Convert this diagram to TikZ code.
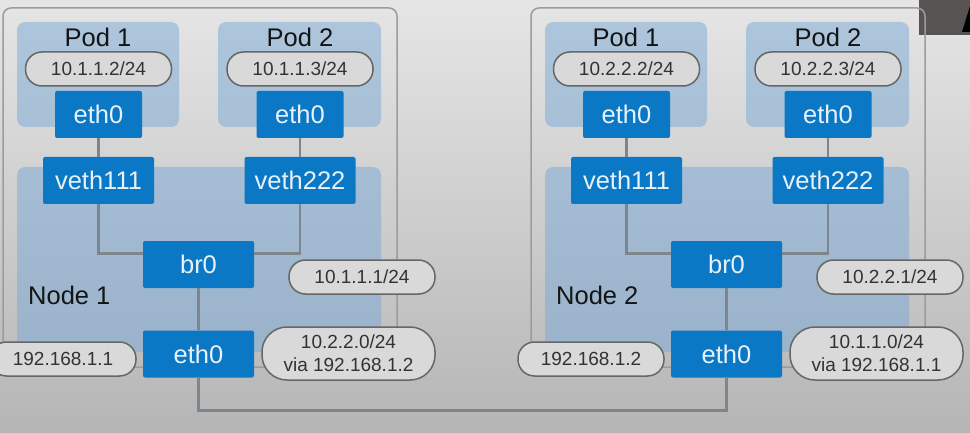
\documentclass[tikz,border=0pt]{standalone}
\usepackage{fontspec}
\setmainfont{Liberation Sans}

\definecolor{azul}{HTML}{0B78C6}
\definecolor{azulclaro}{HTML}{78AAD7}
\definecolor{cinzalinha}{HTML}{7D858D}
\definecolor{cinzaborda}{HTML}{666666}
\definecolor{cinzapilula}{HTML}{D9D9D9}
\definecolor{cinzacaixa}{HTML}{9C9C9C}
\definecolor{cinzaescuro}{HTML}{575353}

\tikzset{
  iface/.style={fill=azul, rounded corners=2pt, text=white!90!azul, inner sep=0pt,
    minimum width=111pt, minimum height=47pt, font=\fontsize{25.5}{30}\selectfont},
  pilula/.style={draw=cinzaborda, line width=1.5pt, fill=cinzapilula, rounded corners=16.5pt,
    minimum width=146pt, minimum height=34pt, inner sep=0pt, text=black!80,
    font=\fontsize{19}{23}\selectfont, align=center},
  rota/.style={minimum width=173pt, minimum height=53pt, rounded corners=25pt},
  rotulo/.style={inner sep=0pt, text=black!92, font=\fontsize{25.5}{30}\selectfont},
  caixa/.style={fill=azulclaro, fill opacity=0.5, rounded corners=8pt},
  ligacao/.style={draw=cinzalinha, line width=2.5pt},
}

\begin{document}
\begin{tikzpicture}[x=1pt,y=-1pt]
		% Fundo
		\clip (0,0) rectangle (970,433);
		\shade[top color=black!10, middle color=black!11, bottom color=black!29] (0,0) rectangle (970,433);
		\fill[cinzaescuro] (919,0) rectangle (970,35);
		\fill[black] (970,6) -- (962,32) -- (970,32) -- cycle;
		
		% Caixas do Node 1
		\draw[cinzacaixa, line width=1.5pt, rounded corners=8pt] (3,8) rectangle (397,367);
		\fill[caixa] (17,22) rectangle (179,127); % Pod 1
		\fill[caixa] (218,22) rectangle (381,127); % Pod 2
		\fill[caixa] (17,167) rectangle (381,352); % Node 1
		
		% Caixas do Node 2
		\draw[cinzacaixa, line width=1.5pt, rounded corners=8pt] (531,8) rectangle (925,367);
		\fill[caixa] (545,22) rectangle (707,127); % Pod 1
		\fill[caixa] (746,22) rectangle (909,127); % Pod 2
		\fill[caixa] (545,167) rectangle (909,352); % Node 2
		
		% Interfaces do Node 1
		\node[rotulo] (n1pod1) at (98,37) {Pod 1};
		\node[rotulo] (n1pod2) at (300,37) {Pod 2};
		\node[pilula] (n1ip1) at (98.5,69) {10.1.1.2/24};
		\node[pilula] (n1ip2) at (300,69) {10.1.1.3/24};
		\node[iface, minimum width=87pt] (n1eth1) at (98.5,114.5) {eth0};
		\node[iface, minimum width=87pt] (n1eth2) at (300,114.5) {eth0};
		\node[iface] (n1veth1) at (98.5,180.5) {veth111};
		\node[iface] (n1veth2) at (300,180.5) {veth222};
		\node[iface] (n1br) at (198.5,264.5) {br0};
		\node[pilula] (n1ipbr) at (362,277) {10.1.1.1/24};
		\node[rotulo, anchor=west] (n1nome) at (28,295) {Node 1};
		\node[iface] (n1eth) at (198.5,354) {eth0};
		\node[pilula] (n1ipeth) at (63,359) {192.168.1.1};
		\node[pilula, rota] (n1rota) at (348.5,353.5) {10.2.2.0/24\\via 192.168.1.2};
		
		% Interfaces do Node 2
		\node[rotulo] (n2pod1) at (626,37) {Pod 1};
		\node[rotulo] (n2pod2) at (828,37) {Pod 2};
		\node[pilula] (n2ip1) at (626.5,69) {10.2.2.2/24};
		\node[pilula] (n2ip2) at (828,69) {10.2.2.3/24};
		\node[iface, minimum width=87pt] (n2eth1) at (626.5,114.5) {eth0};
		\node[iface, minimum width=87pt] (n2eth2) at (828,114.5) {eth0};
		\node[iface] (n2veth1) at (626.5,180.5) {veth111};
		\node[iface] (n2veth2) at (828,180.5) {veth222};
		\node[iface] (n2br) at (726.5,264.5) {br0};
		\node[pilula] (n2ipbr) at (890,277) {10.2.2.1/24};
		\node[rotulo, anchor=west] (n2nome) at (556,295) {Node 2};
		\node[iface] (n2eth) at (726.5,354) {eth0};
		\node[pilula] (n2ipeth) at (591,359) {192.168.1.2};
		\node[pilula, rota] (n2rota) at (876.5,353.5) {10.1.1.0/24\\via 192.168.1.1};
		
		% Ligacoes
		\draw[ligacao] (n1eth1) -- (n1veth1);
		\draw[ligacao] (n1eth2) -- (n1veth2);
		\draw[ligacao] (n1veth1.south) |- ([yshift=11pt]n1br.west);
		\draw[ligacao] (n1veth2.south) |- ([yshift=11pt]n1br.east);
		\draw[ligacao] (n1br) -- (n1eth);
		\draw[ligacao] (n2eth1) -- (n2veth1);
		\draw[ligacao] (n2eth2) -- (n2veth2);
		\draw[ligacao] (n2veth1.south) |- ([yshift=11pt]n2br.west);
		\draw[ligacao] (n2veth2.south) |- ([yshift=11pt]n2br.east);
		\draw[ligacao] (n2br) -- (n2eth);
		\draw[ligacao] (n1eth.south) -- ++(0,33) -| (n2eth.south);
	\end{tikzpicture}
\end{document}
